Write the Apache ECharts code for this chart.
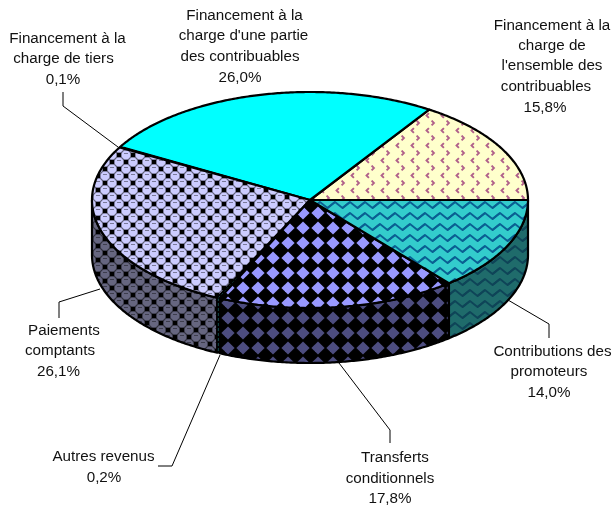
<!DOCTYPE html>
<html><head><meta charset="utf-8">
<style>html,body{margin:0;padding:0;background:#fff}#c{width:613px;height:509px}</style>
<script src="https://cdn.jsdelivr.net/npm/echarts@6/dist/echarts.min.js"></script>
</head><body><div id="c"></div>
<script>
// DATA
const categories = [
  'Financement à la charge de l\'ensemble des contribuables',
  'Financement à la charge d\'une partie des contribuables',
  'Financement à la charge de tiers',
  'Paiements comptants',
  'Autres revenus',
  'Transferts conditionnels',
  'Contributions des promoteurs'
];
const shares = [15.8, 26.0, 0.1, 26.1, 0.2, 17.8, 14.0];
const labelLines = [
  ['Financement à la','charge de','l\'ensemble des','contribuables'],
  ['Financement à la','charge d\'une partie','des contribuables'],
  ['Financement à la','charge de tiers'],
  ['Paiements','comptants'],
  ['Autres revenus'],
  ['Transferts','conditionnels'],
  ['Contributions des','promoteurs']
];
// LAYOUT
const CX=310, CY=200, RX=218, RY=108, DEPTH=55;
const linePos = [
  [[552,26],[552,46],[552,66],[546,87],[545,108]],
  [[244.5,16],[243.5,36],[240,57],[240,78]],
  [[67.5,39],[63.5,59],[63,80]],
  [[64,331],[60,351],[58.5,372]],
  [[103.5,457],[104,478]],
  [[395,458],[390,479],[390,499]],
  [[552.5,352],[549,372],[549,393]]
];
const leaders = [
  null, null,
  [[63,92],[63,106],[118,147]],
  [[100,289],[59,302],[59,318]],
  [[220,355],[172,466],[158,466]],
  [[339,363],[390,430],[390,443]],
  [[508,300],[549,324],[549,338]]
];
function tile(w,h,bg,draw){
  const c=document.createElement('canvas');c.width=w;c.height=h;
  const g=c.getContext('2d');g.fillStyle=bg;g.fillRect(0,0,w,h);
  // each motif is drawn with wrap-around copies
  const wrap=(fn)=>{for(const dx of [-w,0,w])for(const dy of [-h,0,h])fn(dx,dy);};
  draw(g,wrap);
  return {image:c,repeat:'repeat'};
}
function chevrons(bg,fg){return tile(15,15,bg,(g,wrap)=>{
  g.strokeStyle=fg;g.lineWidth=1.9;
  wrap((dx,dy)=>{
    g.beginPath();g.moveTo(11.6+dx,0.6+dy);g.lineTo(14+dx,3+dy);g.lineTo(11.6+dx,5.4+dy);g.stroke();
    g.beginPath();g.moveTo(8.9+dx,8.1+dy);g.lineTo(6.5+dx,10.5+dy);g.lineTo(8.9+dx,12.9+dy);g.stroke();
  });
});}
function waves(bg,fg){return tile(15,11,bg,(g,wrap)=>{
  g.strokeStyle=fg;g.lineWidth=1.8;g.lineJoin='round';
  wrap((dx,dy)=>{
    g.beginPath();g.moveTo(-2.5+dx,10+dy);g.lineTo(5+dx,4+dy);g.lineTo(12.5+dx,10+dy);g.lineTo(20+dx,4+dy);g.stroke();
  });
});}
function diamonds(bg,fg){return tile(15,15,fg,(g,wrap)=>{
  g.fillStyle=bg;
  const d=(x,y)=>{g.beginPath();g.moveTo(x-6.6,y);g.lineTo(x,y-6.6);g.lineTo(x+6.6,y);g.lineTo(x,y+6.6);g.closePath();g.fill();};
  wrap((dx,dy)=>{d(3+dx,3+dy);});
});}
function spheres(bg,fg){return tile(14,14,bg,(g,wrap)=>{
  wrap((dx,dy)=>{
    g.fillStyle=fg;
    g.fillRect(4.8+dx,-1.2+dy,4.4,4.4);g.fillRect(11.8+dx,5.8+dy,4.4,4.4);
    for(const [x,y] of [[0,1],[7,8]]){
      g.strokeStyle='rgba(0,0,0,.33)';g.lineWidth=1.1;
      g.beginPath();g.arc(x+dx,y+dy,5,0,2*Math.PI);g.stroke();
      g.fillStyle='rgba(0,0,0,.4)';g.fillRect(x-2+dx,y-2+dy,4,1);
    }
  });
});}
const tops=[chevrons('#FFFFCC','#B0608A'),'#00FFFF',spheres('#CCCCFF','#000'),spheres('#CCCCFF','#000'),'#000',diamonds('#9999FF','#000'),waves('#33CCCC','#0A5F92')];
const sides=[chevrons('#808066','#4c1a33'),'#008080',spheres('#666680','#000'),spheres('#666680','#000'),'#000',diamonds('#4D4D80','#000'),waves('#1F6B6B','#0F4458')];

const cum=[];let acc=0;shares.forEach(v=>{cum.push([acc,acc+v]);acc+=v;});
const total=acc;
const rad=p=>p/total*2*Math.PI;
const ex=a=>CX+RX*Math.cos(a), ey=a=>CY-RY*Math.sin(a);
function arcPts(a0,a1,dy){const n=Math.max(2,Math.ceil(Math.abs(a1-a0)/0.01));const r=[];
  for(let i=0;i<=n;i++){const a=a0+(a1-a0)*i/n;r.push([ex(a),ey(a)+dy]);}return r;}
function renderTop(params,api){
  const i=params.dataIndex,a0=rad(api.value(0)),a1=rad(api.value(1));
  const poly={type:'polygon',shape:{points:[[CX,CY]].concat(arcPts(a0,a1,0))},
    style:{fill:tops[i],stroke:'#000',lineWidth:i===2||i===4?1:2.2,lineJoin:'round'}};
  if(i!==4) return poly;
  const m=(a0+a1)/2,k=.8;
  return {type:'group',children:[poly,{type:'line',
    shape:{x1:CX+RX*k*Math.cos(m),y1:CY-RY*k*Math.sin(m),x2:ex(m),y2:ey(m)},
    style:{stroke:'#1D7A7A',lineWidth:1,lineDash:[2,2]}}]};
}
function renderSide(params,api){
  const i=params.dataIndex;let a0=rad(api.value(0)),a1=rad(api.value(1));
  a0=Math.max(a0,Math.PI);a1=Math.min(a1,2*Math.PI);
  if(a1<=a0) return {type:'group',children:[]};
  const up=arcPts(a0,a1,0),dn=arcPts(a1,a0,DEPTH);
  const poly={type:'polygon',shape:{points:up.concat(dn)},
    style:{fill:sides[i],stroke:'#000',lineWidth:i===4?1:2.2,lineJoin:'round'}};
  if(i!==4) return poly;
  const m=(a0+a1)/2;
  return {type:'group',children:[poly,{type:'line',
    shape:{x1:ex(m),y1:ey(m),x2:ex(m),y2:ey(m)+DEPTH},
    style:{stroke:'#1D7A7A',lineWidth:1,lineDash:[3,2]}}]};
}
const ranges=cum.map((c,i)=>({name:categories[i],value:c}));
const gfx=[];
labelLines.forEach((lines,i)=>{
  const all=lines.concat([shares[i].toFixed(1).replace('.',',')+'%']);
  all.forEach((t,j)=>gfx.push({type:'text',x:linePos[i][j][0],y:linePos[i][j][1],z:5,silent:true,
    style:{text:t,fill:'#111',font:'15.2px "Liberation Sans"',align:'center',verticalAlign:'middle'}}));
  if(leaders[i]) gfx.push({type:'polyline',z:4,silent:true,shape:{points:leaders[i]},style:{stroke:'#000',lineWidth:1,fill:null}});
});
const chart=echarts.init(document.getElementById('c'),null,{renderer:'canvas'});
chart.setOption({animation:false,backgroundColor:'#fff',
  graphic:{elements:gfx},
  series:[
    {type:'custom',coordinateSystem:'none',renderItem:renderSide,data:ranges,z:1,silent:true},
    {type:'custom',coordinateSystem:'none',renderItem:renderTop,data:ranges,z:2,silent:true}
  ]});
</script></body></html>
